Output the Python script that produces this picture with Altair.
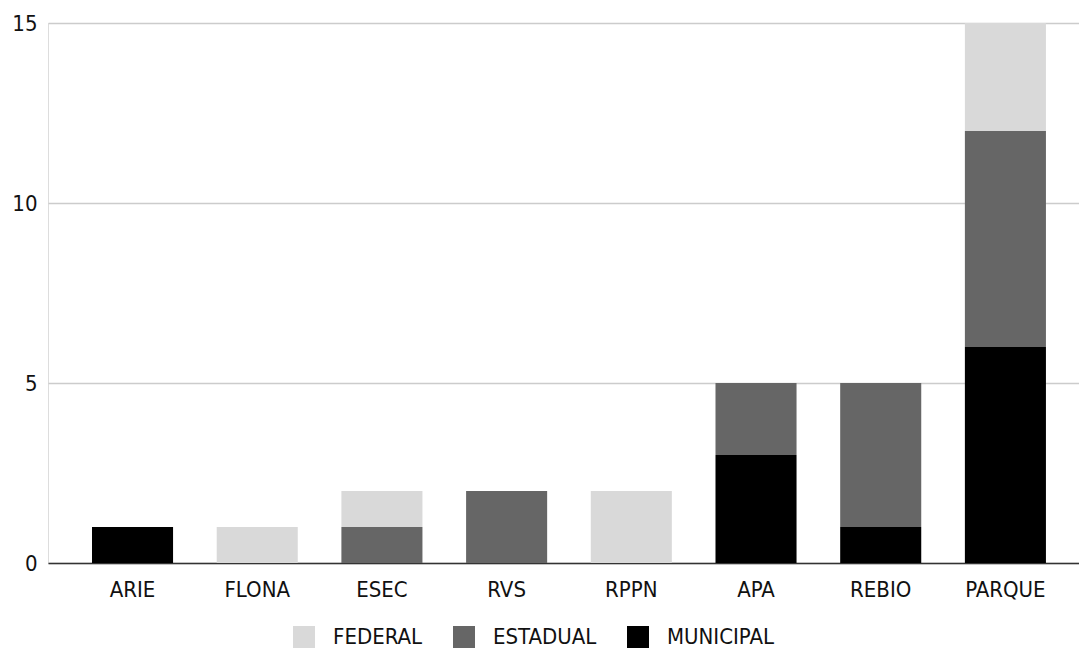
import altair as alt
import pandas as pd

# Number of protected areas by category and administrative sphere
categories = ["ARIE", "FLONA", "ESEC", "RVS", "RPPN", "APA", "REBIO", "PARQUE"]
federal = [0, 1, 1, 0, 2, 0, 0, 3]
estadual = [0, 0, 1, 2, 0, 2, 4, 6]
municipal = [1, 0, 0, 0, 0, 3, 1, 6]

spheres = ["FEDERAL", "ESTADUAL", "MUNICIPAL"]
sphere_colors = ["#d9d9d9", "#666666", "#000000"]
# stacking position: municipal at the base, federal on top
stack_rank = {"MUNICIPAL": 0, "ESTADUAL": 1, "FEDERAL": 2}

rows = []
for sphere, values in zip(spheres, [federal, estadual, municipal]):
    for cat, v in zip(categories, values):
        if v > 0:
            rows.append({"categoria": cat, "esfera": sphere, "total": v,
                         "ordem": stack_rank[sphere]})
df = pd.DataFrame(rows)

FONT = "DejaVu Sans Condensed"
TEXT_COLOR = "#111111"

chart = (
    alt.Chart(df)
    .mark_bar()
    .encode(
        x=alt.X(
            "categoria:N",
            sort=categories,
            scale=alt.Scale(paddingInner=0.35, paddingOuter=0.309, align=0.571),
            axis=alt.Axis(
                title=None, labelAngle=0, ticks=False, domain=True,
                domainColor="#333333", domainWidth=1.5,
                labelFont=FONT, labelFontSize=22, labelColor=TEXT_COLOR,
                labelPadding=16, grid=False,
            ),
        ),
        y=alt.Y(
            "total:Q",
            stack="zero",
            scale=alt.Scale(domain=[0, 15], nice=False),
            axis=alt.Axis(
                title=None, values=[0, 5, 10, 15], ticks=False, domain=False,
                labelFont=FONT, labelFontSize=22, labelColor=TEXT_COLOR,
                labelPadding=11, gridColor="#cccccc", gridWidth=1.5,
            ),
        ),
        color=alt.Color(
            "esfera:N",
            scale=alt.Scale(domain=spheres, range=sphere_colors),
            legend=alt.Legend(
                title=None, orient="none", direction="horizontal",
                legendX=245, legendY=603,
                symbolType="square", symbolSize=484, symbolStrokeWidth=0,
                labelFont=FONT, labelFontSize=22, labelColor=TEXT_COLOR,
                labelOffset=18, columnPadding=30,
            ),
        ),
        order=alt.Order("ordem:Q", sort="ascending"),
    )
    .properties(
        width=1031,
        height=540,
        autosize=alt.AutoSizeParams(type="none"),
        padding={"left": 48, "top": 23, "right": 0, "bottom": 89},
    )
    .configure_view(strokeWidth=0, stroke="transparent")
    .configure(background="white")
)

chart.save("out.html", embed_options={"renderer": "svg", "actions": False})
